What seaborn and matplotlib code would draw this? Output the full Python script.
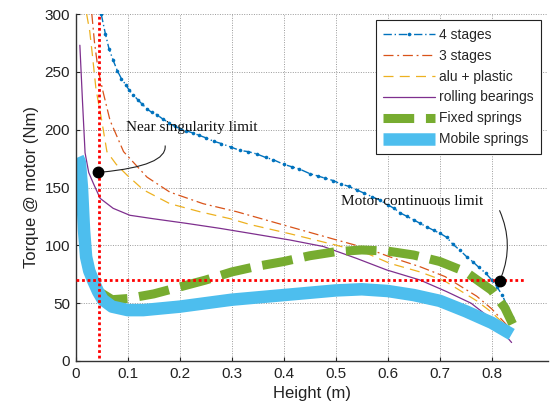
import matplotlib
matplotlib.use("Agg")
import matplotlib.pyplot as plt
import seaborn as sns

# =========================
# dados
# =========================
x_4stages = [0.049, 0.057, 0.064, 0.072, 0.080, 0.088, 0.096, 0.103, 0.111, 0.119, 0.128,
             0.137, 0.146, 0.156, 0.168, 0.180, 0.190, 0.200, 0.213, 0.226, 0.238, 0.250,
             0.265, 0.280, 0.298, 0.316, 0.332, 0.348, 0.365, 0.380, 0.400, 0.415, 0.430,
             0.450, 0.465, 0.480, 0.495, 0.510, 0.525, 0.540, 0.555, 0.570, 0.585, 0.600,
             0.612, 0.624, 0.637, 0.650, 0.662, 0.675, 0.688, 0.700, 0.713, 0.725, 0.738,
             0.752, 0.763, 0.775, 0.788, 0.800, 0.810, 0.820, 0.830, 0.838]
y_4stages = [300, 283, 270, 260, 251, 244, 239, 234, 230, 226, 222,
             218, 215, 213, 209, 206, 203, 201, 199, 197, 195, 193,
             190, 188, 185, 182, 181, 179, 176, 174, 170, 168, 166,
             162, 160, 158, 156, 153, 151, 148, 145, 142, 139, 135,
             132, 128, 125, 122, 119, 116, 113, 110.5, 107, 101, 96,
             90, 86, 81, 76, 70, 64, 57, 47, 38]

x_3stages = [0.031, 0.036, 0.043, 0.053, 0.066, 0.092, 0.137, 0.181, 0.245, 0.310,
             0.412, 0.502, 0.560, 0.604, 0.662, 0.710, 0.771, 0.800, 0.831]
y_3stages = [300, 276, 252, 232, 208, 181, 159, 146, 136, 129,
             116, 104.6, 97.4, 90, 81.5, 73, 56, 45, 30]

x_alu = [0.021, 0.027, 0.032, 0.039, 0.050, 0.060, 0.078, 0.098, 0.130, 0.181, 0.239,
         0.297, 0.335, 0.412, 0.502, 0.560, 0.604, 0.662, 0.710, 0.771, 0.800, 0.835]
y_alu = [300, 285, 265, 235, 208, 181, 170, 161, 148, 136, 129,
         123, 118, 110, 100, 93, 84.4, 77, 69, 52, 42, 27]

x_rolling = [0.008, 0.013, 0.018, 0.025, 0.034, 0.047, 0.072, 0.104, 0.149, 0.213, 0.277,
             0.335, 0.412, 0.476, 0.540, 0.598, 0.662, 0.713, 0.760, 0.800, 0.838]
y_rolling = [273, 225, 180, 163, 153.5, 140.6, 132, 126, 123, 119, 114.7,
             110.4, 104.6, 99, 88.7, 78.7, 70, 60, 50, 36, 16]

x_fixed = [0.045, 0.070, 0.100, 0.150, 0.200, 0.250, 0.300, 0.350, 0.400, 0.450,
           0.500, 0.550, 0.600, 0.650, 0.700, 0.750, 0.800, 0.825, 0.840]
y_fixed = [60, 53, 54, 58, 64, 70, 77, 82, 86, 91,
           94.5, 96, 95, 91.6, 86, 77, 61, 46, 32]

x_mobile = [0.004, 0.008, 0.012, 0.016, 0.020, 0.026, 0.034, 0.043, 0.052, 0.070, 0.100,
            0.130, 0.200, 0.250, 0.300, 0.350, 0.400, 0.450, 0.500, 0.550, 0.600,
            0.650, 0.700, 0.750, 0.800, 0.838]
y_mobile = [176, 172, 150, 113, 90, 78, 69, 60, 53, 47, 44,
            44, 47, 50, 53, 55, 57, 59, 61, 62, 60.5,
            57, 52, 43, 33, 23]

# limites
singularidade_x = 0.045
limite_motor_y = 70
dot_singularidade = (0.043, 163)
dot_motor = (0.815, 69.2)

# =========================
# estilo
# =========================
sns.set_theme(style="whitegrid")
plt.rcParams["font.family"] = ["Liberation Sans", "DejaVu Sans"]

fig = plt.figure(figsize=(5.5, 4.17), dpi=100)
ax = fig.add_axes([75.7 / 550, 56 / 417, (548 - 75.7) / 550, (361 - 14) / 417])
ax.set_facecolor("white")

# linhas finas
sns.lineplot(x=x_4stages, y=y_4stages, sort=False, ax=ax, color="#0072BD",
             linestyle=(0, (6, 2, 1, 2)), linewidth=1.0, marker="o", markersize=2.6,
             markeredgewidth=0, label="4 stages")
sns.lineplot(x=x_3stages, y=y_3stages, sort=False, ax=ax, color="#D95319",
             linestyle=(0, (8, 3, 1.5, 3)), linewidth=0.9, label="3 stages")
sns.lineplot(x=x_alu, y=y_alu, sort=False, ax=ax, color="#EDB120",
             linestyle=(0, (8, 5)), linewidth=0.9, label="alu + plastic")
sns.lineplot(x=x_rolling, y=y_rolling, sort=False, ax=ax, color="#7E2F8E",
             linestyle="-", linewidth=0.9, label="rolling bearings")

# linhas grossas
sns.lineplot(x=x_fixed, y=y_fixed, sort=False, ax=ax, color="#77AC30",
             linestyle=(0, (3.4, 1.3)), linewidth=6.5, label="Fixed springs")
sns.lineplot(x=x_mobile, y=y_mobile, sort=False, ax=ax, color="#4DBEEE",
             linestyle="-", linewidth=9, solid_capstyle="butt", label="Mobile springs")

# limites em vermelho
ax.axvline(singularidade_x, ymin=0.01, ymax=1, color="red", linestyle=(0, (1, 1)),
           linewidth=2, zorder=5)
ax.plot([0, 0.865], [limite_motor_y, limite_motor_y], color="red",
        linestyle=(0, (1, 1)), linewidth=2, zorder=5)

# anotações
ax.plot(*dot_singularidade, "o", color="black", markersize=7.5, zorder=10)
ax.plot(*dot_motor, "o", color="black", markersize=7.5, zorder=10)

ax.annotate("", xy=dot_singularidade, xytext=(0.172, 186),
            arrowprops=dict(arrowstyle="-", color="#222222", lw=0.8,
                            connectionstyle="angle3,angleA=95,angleB=5",
                            shrinkA=0, shrinkB=3))
ax.annotate("", xy=dot_motor, xytext=(0.815, 130),
            arrowprops=dict(arrowstyle="-", color="#222222", lw=0.8,
                            connectionstyle="arc3,rad=-0.22",
                            shrinkA=0, shrinkB=3))

ax.text(0.097, 202, "Near singularity limit", family=["Liberation Serif"],
        fontsize=11, ha="left", va="center", color="#111111", zorder=11)
ax.text(0.51, 138, "Motor continuous limit", family=["Liberation Serif"],
        fontsize=11, ha="left", va="center", color="#111111", zorder=11)

# eixos
ax.set_xlim(0, 0.908)
ax.set_ylim(0, 300)
ax.set_xticks([0, 0.1, 0.2, 0.3, 0.4, 0.5, 0.6, 0.7, 0.8])
ax.set_xticklabels(["0", "0.1", "0.2", "0.3", "0.4", "0.5", "0.6", "0.7", "0.8"])
ax.set_yticks([0, 50, 100, 150, 200, 250, 300])

ax.grid(True, color="#9a9a9a", linestyle=(0, (1, 1.5)), linewidth=0.7)
for lado in ["top", "right"]:
    ax.spines[lado].set_visible(False)
for lado in ["left", "bottom"]:
    ax.spines[lado].set_color("#333333")
    ax.spines[lado].set_linewidth(1.0)

ax.tick_params(axis="both", direction="in", length=3, width=0.8, colors="#222222",
               labelsize=11, left=True, bottom=True, pad=4)

ax.set_xlabel("Height (m)", fontsize=12, color="#222222", labelpad=4)
ax.set_ylabel("Torque @ motor (Nm)", fontsize=12, color="#222222", labelpad=4)

leg = ax.legend(loc="upper right", bbox_to_anchor=(541 / 550, 1 - 20 / 417),
                bbox_transform=fig.transFigure, borderaxespad=0, fontsize=10,
                frameon=True, fancybox=False, framealpha=1, edgecolor="#222222",
                handlelength=3.7, handletextpad=0.3, labelspacing=0.5,
                borderpad=0.55)
leg.get_frame().set_linewidth(0.8)

fig.savefig("out.png", dpi=100)
